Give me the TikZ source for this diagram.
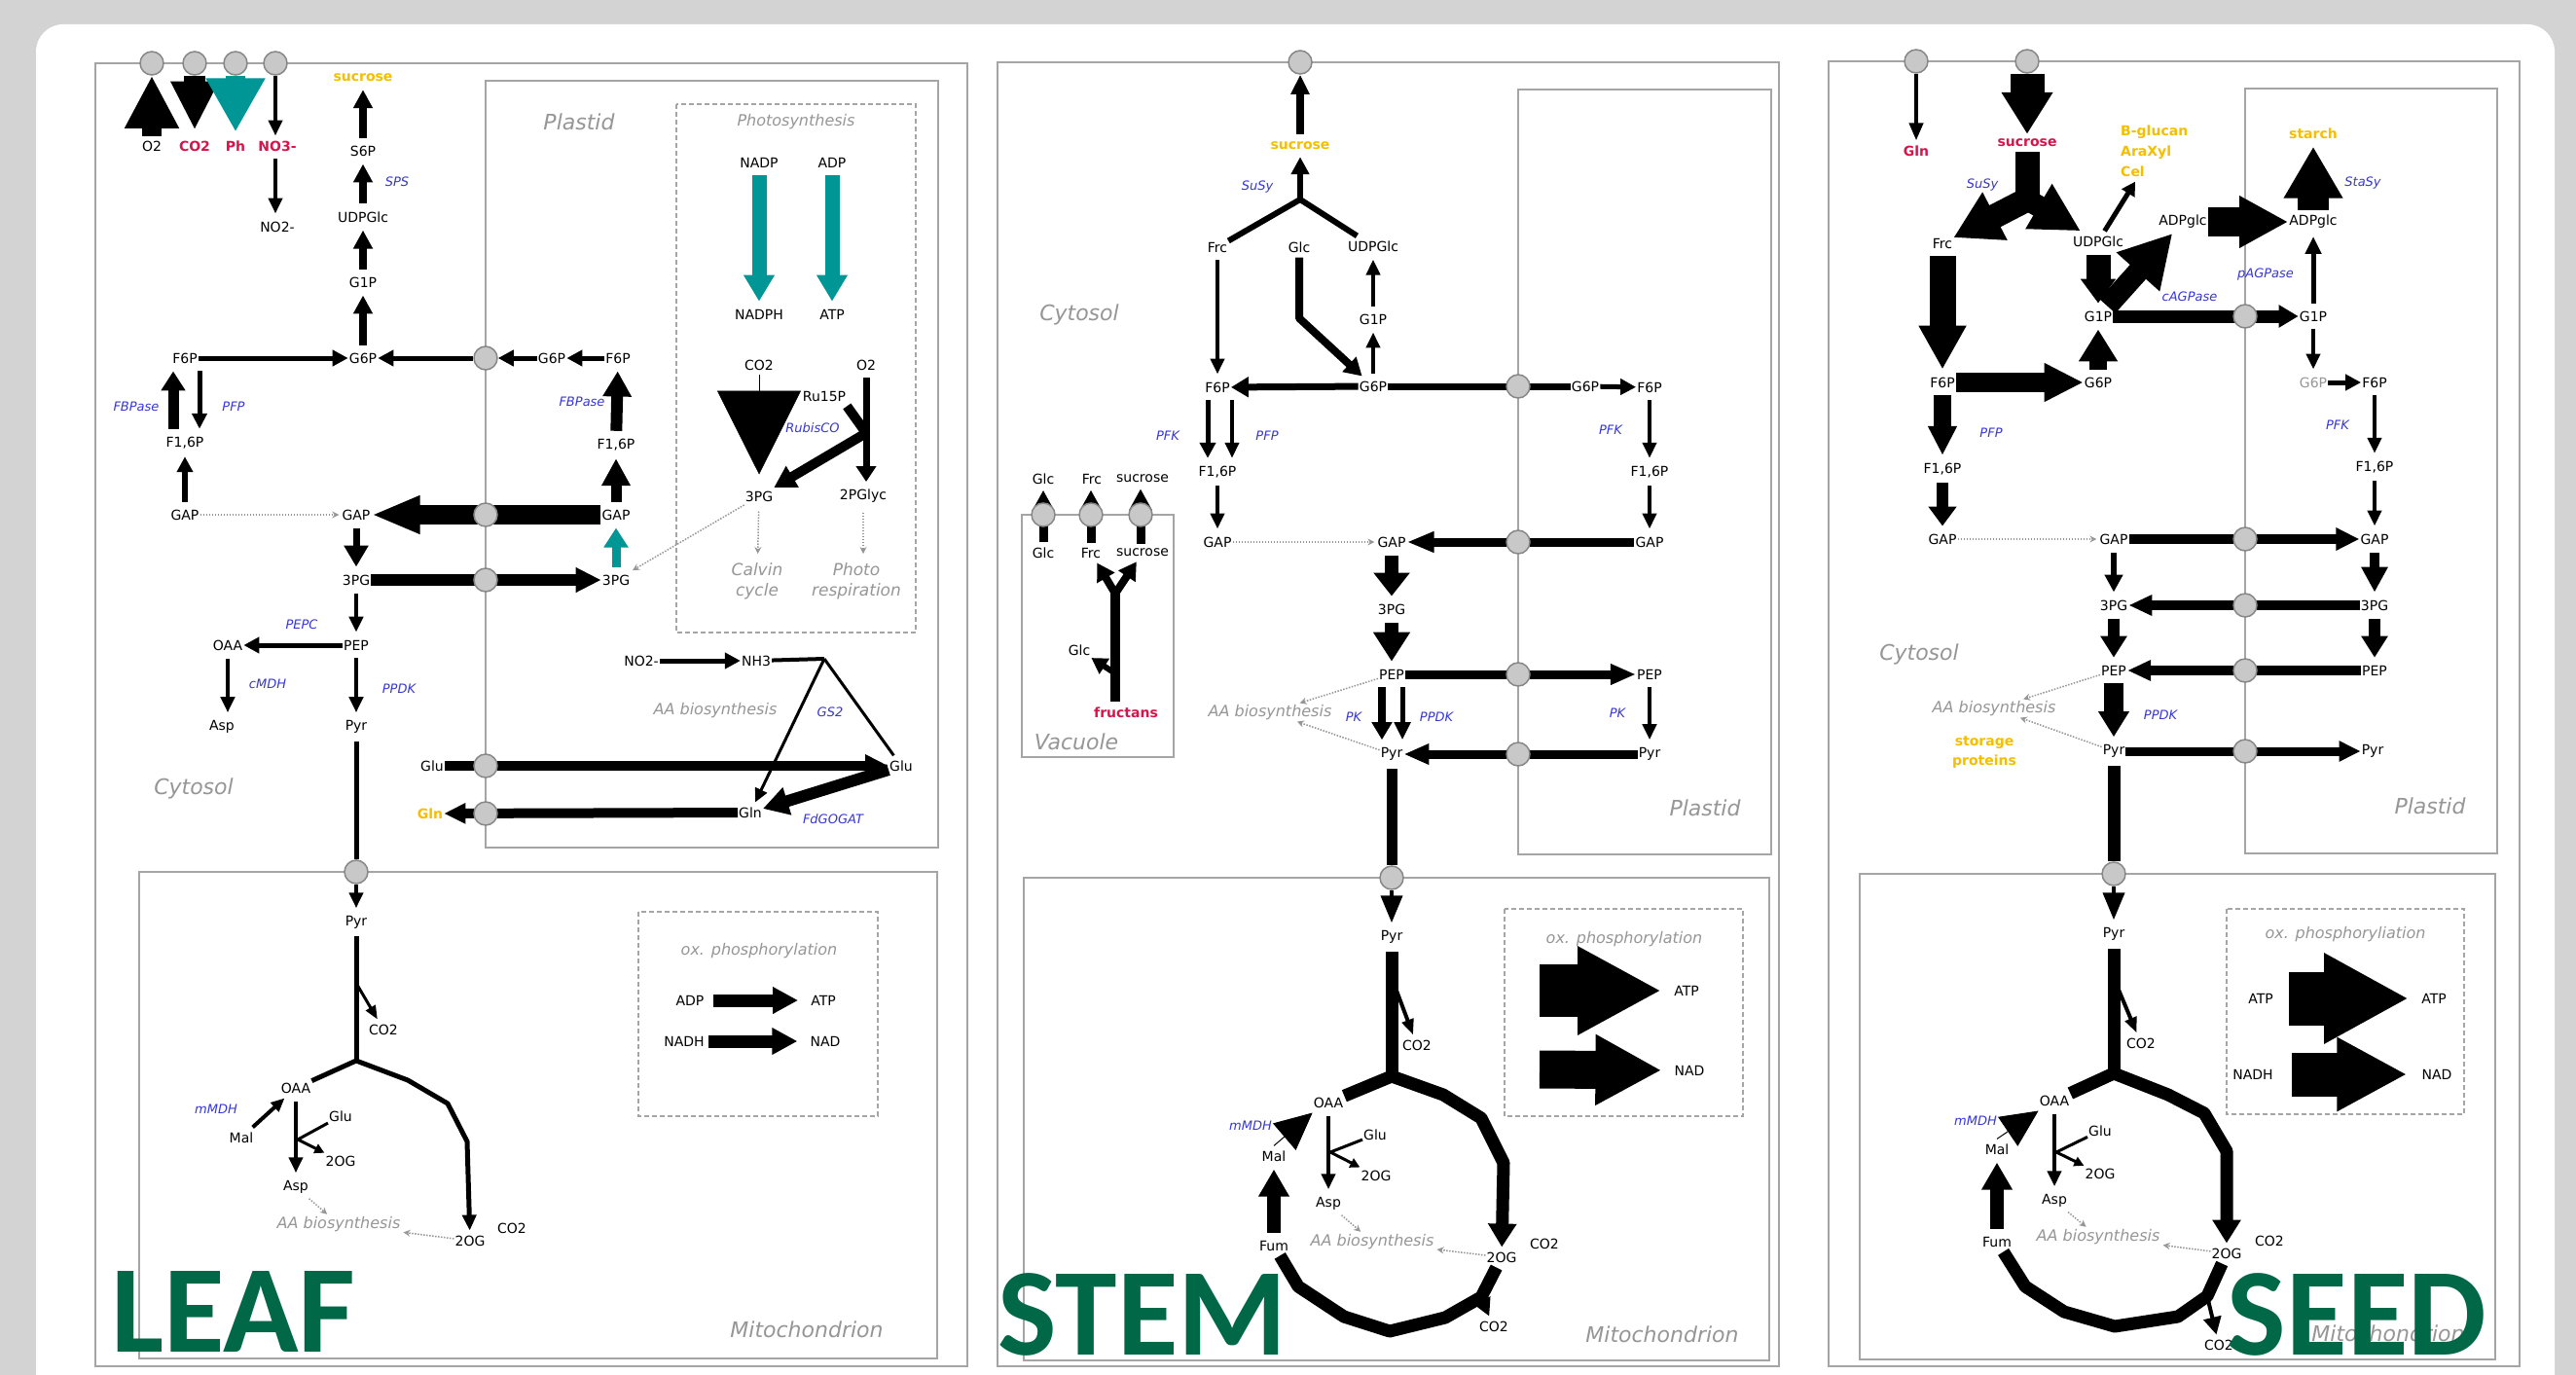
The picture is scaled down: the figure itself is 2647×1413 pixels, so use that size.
\documentclass[tikz,border=0pt]{standalone}
\usepackage{fontspec}
\setmainfont{DejaVu Sans}
\newfontfamily\carl{Carlito}
\usetikzlibrary{arrows.meta}
\definecolor{gold}{RGB}{245,190,0}
\definecolor{mred}{RGB}{215,20,75}
\definecolor{enzc}{RGB}{55,55,215}
\definecolor{tealc}{RGB}{0,150,150}
\definecolor{boxg}{RGB}{165,165,165}
\definecolor{txtg}{RGB}{150,150,150}
\definecolor{portf}{RGB}{200,200,200}
\definecolor{portd}{RGB}{135,135,135}
\definecolor{bggray}{RGB}{211,211,211}
\definecolor{leafg}{RGB}{0,103,71}
\newcommand\labfont{\fontsize{14}{20}\selectfont}
\newcommand\enzfont{\fontsize{13}{15}\selectfont\itshape}
\newcommand\compfont{\fontsize{22}{26}\selectfont\itshape}
\newcommand\grfont{\fontsize{16}{19}\selectfont\itshape}
\newcommand\grbfont{\fontsize{17}{21}\selectfont\itshape}
\newcommand\bigfont{\carl\bfseries\fontsize{128}{130}\selectfont}
\pgfdeclarelayer{back}
\pgfdeclarelayer{arr}
\pgfsetlayers{back,arr,main}
\begin{document}
\begin{tikzpicture}[x=1pt,y=-1pt,
  lab/.style={font=\labfont, inner xsep=1pt, inner ysep=5pt},
  rlab/.style={lab, text=mred, font=\labfont\bfseries},
  glab/.style={lab, text=gold, font=\labfont\bfseries},
  enzl/.style={font=\enzfont, text=enzc, inner sep=1pt},
  comp/.style={font=\compfont, text=txtg, inner sep=1pt},
  grl/.style={font=\grfont, text=txtg, inner sep=1pt},
  grl2/.style={font=\grbfont, text=txtg, inner sep=1pt, align=center},
  big/.style={font=\bigfont, text=leafg, inner sep=0pt},
  port/.style={circle, fill=portf, draw=portd, line width=1.5pt, minimum size=24pt, inner sep=0pt},
  box/.style={draw=boxg, line width=2pt},
  dbox/.style={draw=boxg, line width=1.6pt, dash pattern=on 5pt off 3pt},
  fa/.style n args={3}{line width=#1pt, -{Triangle[width=#2pt,length=#3pt]}},
  vsh/.style={shorten <=3pt, shorten >=3pt},
  dotarr/.style={draw=txtg, line width=1.5pt, dash pattern=on 1.5pt off 1.5pt, -{Stealth[width=7pt,length=7pt]}, shorten >=2pt},
  thick line/.style={line width=#1pt, line join=round}
]
\useasboundingbox (0,0) rectangle (2647,1413);
\begin{pgfonlayer}{back}
\fill[bggray] (0,0) rectangle (2647,1413);
\fill[white, rounded corners=28pt] (37,25) rectangle (2625,1470);
% LEAF boxes
\draw[box] (98,65) rectangle (994,1404);
\draw[box] (499,83) rectangle (964,871);
\draw[dbox] (695,107) rectangle (941,650);
\draw[box] (143,896) rectangle (963,1396);
\draw[dbox] (656,937) rectangle (902,1147);
% STEM boxes
\draw[box] (1025,64) rectangle (1828,1404);
\draw[box] (1560,92) rectangle (1820,878);
\draw[box] (1050,529) rectangle (1206,778);
\draw[box] (1052,902) rectangle (1818,1398);
\draw[dbox] (1546,934) rectangle (1791,1147);
% SEED boxes
\draw[box] (1879,63) rectangle (2589,1404);
\draw[box] (2307,91) rectangle (2566,877);
\draw[box] (1911,898) rectangle (2564,1397);
\draw[dbox] (2288,934) rectangle (2532,1145);
\end{pgfonlayer}

% ================= LEAF nodes =================
\node[port] (pO2) at (156,65) {};
\node[port] (pCO2) at (200,65) {};
\node[port] (pPh) at (242,65) {};
\node[port] (pNO3) at (283,65) {};
\node[lab] (lO2) at (156,150) {O2};
\node[rlab] (lCO2) at (200,150) {CO2};
\node[rlab] (lPh) at (242,150) {Ph};
\node[rlab] (lNO3) at (285,150) {NO3-};
\node[lab] (lNO2) at (285,233) {NO2-};
\node[glab] (lSucA) at (373,80) {sucrose};
\node[lab] (lS6P) at (373,155) {S6P};
\node[enzl] (eSPS) at (408,187) {SPS};
\node[lab] (lUDPA) at (373,223) {UDPGlc};
\node[lab] (lG1PA) at (373,290) {G1P};
\node[lab] (lG6PA) at (373,368) {G6P};
\node[lab] (lF6PA) at (190,368) {F6P};
\node[lab] (lF16A) at (190,455) {F1,6P};
\node[enzl] (eFBPa) at (140,418) {FBPase};
\node[enzl] (ePFPa) at (240,418) {PFP};
\node[lab] (lGAPA1) at (190,529) {GAP};
\node[lab] (lGAPA2) at (366,529) {GAP};
\node[lab] (l3PGA) at (366,596) {3PG};
\node[enzl] (ePEPC) at (310,642) {PEPC};
\node[lab] (lOAAA) at (234,663) {OAA};
\node[lab] (lPEPA) at (366,663) {PEP};
\node[enzl] (ecMDH) at (275,703) {cMDH};
\node[enzl] (ePPDKa) at (410,708) {PPDK};
\node[lab] (lAspA) at (228,747) {Asp};
\node[lab] (lPyrA) at (366,747) {Pyr};
\node[comp] (cCytA) at (199,810) {Cytosol};
\node[lab] (lGluA1) at (444,787) {Glu};
\node[glab] (lGlnA1) at (442,836) {Gln};
\node[comp] (cPlaA) at (595,125) {Plastid};
\node[grl] (tPhoto) at (818,125) {Photosynthesis};
\node[lab] (lNADP) at (780,167) {NADP};
\node[lab] (lADPA) at (855,167) {ADP};
\node[lab] (lNADPH) at (780,323) {NADPH};
\node[lab] (lATPA) at (855,323) {ATP};
\node[lab] (lG6PAp) at (567,368) {G6P};
\node[lab] (lF6PAp) at (635,368) {F6P};
\node[enzl] (eFBPb) at (598,413) {FBPase};
\node[lab] (lF16Ap) at (633,457) {F1,6P};
\node[lab] (lGAPAp) at (633,529) {GAP};
\node[lab] (l3PGAp) at (633,596) {3PG};
\node[lab] (lRu) at (847,407) {Ru15P};
\node[lab] (lCO2ph) at (780,375) {CO2};
\node[lab] (lO2ph) at (890,375) {O2};
\node[enzl] (eRub) at (835,440) {RubisCO};
\node[lab] (l3PGph) at (780,510) {3PG};
\node[lab] (l2PG) at (887,510) {2PGlyc};
\node[grl2] (tCalvin) at (778,597) {Calvin\\cycle};
\node[grl2] (tPhotoR) at (880,597) {Photo\\respiration};
\node[lab] (lNO2b) at (659,679) {NO2-};
\node[lab] (lNH3) at (777,679) {NH3};
\node[grl] (tAAa) at (735,730) {AA biosynthesis};
\node[enzl] (eGS2) at (853,732) {GS2};
\node[lab] (lGluAp) at (926,787) {Glu};
\node[lab] (lGlnAp) at (771,835) {Gln};
\node[enzl] (eFdG) at (856,842) {FdGOGAT};
\node[port] (pA1) at (499,368) {};
\node[port] (pA2) at (499,529) {};
\node[port] (pA3) at (499,596) {};
\node[port] (pA4) at (499,787) {};
\node[port] (pA5) at (499,836) {};
\node[port] (pA6) at (366,896) {};
\node[lab] (lPyrAm) at (366,948) {Pyr};
\node[lab] (lCO2Am1) at (394,1058) {CO2};
\node[lab] (lOAAAm) at (304,1118) {OAA};
\node[enzl] (emMDHa) at (222,1140) {mMDH};
\node[lab] (lMalA) at (248,1169) {Mal};
\node[lab] (lGluAm) at (350,1147) {Glu};
\node[lab] (l2OGAm1) at (350,1193) {2OG};
\node[lab] (lAspAm) at (304,1220) {Asp};
\node[grl] (tAAam) at (348,1258) {AA biosynthesis};
\node[lab] (l2OGAm2) at (483,1275) {2OG};
\node[lab] (lCO2Am2) at (526,1262) {CO2};
\node[grl] (tOxA) at (780,977) {ox. phosphorylation};
\node[lab] (lADPAm) at (709,1028) {ADP};
\node[lab] (lATPAm) at (846,1028) {ATP};
\node[lab] (lNADHA) at (703,1070) {NADH};
\node[lab] (lNADA) at (848,1070) {NAD};
\node[comp] (cMitA) at (829,1366) {Mitochondrion};
\node[big] (tLEAF) at (240,1348) {LEAF};
\coordinate (jN) at (847,677);
\coordinate (jRu) at (890,445);
\coordinate (jA) at (366,1090);
\coordinate (cA1) at (367,1012);
\coordinate (jGA) at (306,1171);

% ================= STEM nodes =================
\node[port] (pB0) at (1336,64) {};
\node[glab] (lSucB) at (1336,150) {sucrose};
\node[enzl] (eSuSyB) at (1292,192) {SuSy};
\node[lab] (lFrcB) at (1251,254) {Frc};
\node[lab] (lGlcB) at (1335,254) {Glc};
\node[lab] (lUDPB) at (1411,253) {UDPGlc};
\node[comp] (cCytB) at (1109,323) {Cytosol};
\node[lab] (lG1PB) at (1411,328) {G1P};
\node[lab] (lF6PB) at (1251,398) {F6P};
\node[lab] (lG6PB) at (1411,397) {G6P};
\node[port] (pB1) at (1560,397) {};
\node[lab] (lG6PBp) at (1629,397) {G6P};
\node[lab] (lF6PBp) at (1695,398) {F6P};
\node[enzl] (ePFKBp) at (1655,442) {PFK};
\node[lab] (lF16Bp) at (1695,485) {F1,6P};
\node[enzl] (ePFKB) at (1200,448) {PFK};
\node[enzl] (ePFPB) at (1302,448) {PFP};
\node[lab] (lF16B) at (1251,485) {F1,6P};
\node[lab] (lGAPB1) at (1251,557) {GAP};
\node[lab] (lGAPB2) at (1430,557) {GAP};
\node[port] (pB2) at (1560,557) {};
\node[lab] (lGAPBp) at (1695,557) {GAP};
\node[lab] (l3PGB) at (1430,626) {3PG};
\node[lab] (lPEPB) at (1430,693) {PEP};
\node[port] (pB3) at (1560,693) {};
\node[lab] (lPEPBp) at (1695,693) {PEP};
\node[grl] (tAAB) at (1305,732) {AA biosynthesis};
\node[enzl] (ePKB) at (1391,737) {PK};
\node[enzl] (ePPDKB) at (1476,737) {PPDK};
\node[enzl] (ePKBp) at (1662,733) {PK};
\node[lab] (lPyrB) at (1430,775) {Pyr};
\node[port] (pB4) at (1560,775) {};
\node[lab] (lPyrBp) at (1695,775) {Pyr};
\node[comp] (cPlaB) at (1752,830) {Plastid};
\node[lab] (lGlcV0) at (1072,492) {Glc};
\node[lab] (lFrcV0) at (1122,492) {Frc};
\node[lab] (lSucV0) at (1174,492) {sucrose};
\node[port] (pV1) at (1072,529) {};
\node[port] (pV2) at (1121,529) {};
\node[port] (pV3) at (1172,529) {};
\node[lab] (lGlcV) at (1072,568) {Glc};
\node[lab] (lFrcV) at (1121,568) {Frc};
\node[lab] (lSucV) at (1174,568) {sucrose};
\node[lab] (lGlcV2) at (1109,668) {Glc};
\node[rlab] (lFruc) at (1157,732) {fructans};
\node[comp] (cVac) at (1106,762) {Vacuole};
\node[port] (pB5) at (1430,902) {};
\node[lab] (lPyrBm) at (1430,963) {Pyr};
\node[lab] (lCO2Bm1) at (1456,1074) {CO2};
\node[lab] (lOAABm) at (1365,1133) {OAA};
\node[enzl] (emMDHB) at (1285,1157) {mMDH};
\node[lab] (lMalB) at (1309,1188) {Mal};
\node[lab] (lGluBm) at (1413,1166) {Glu};
\node[lab] (l2OGBm1) at (1414,1208) {2OG};
\node[lab] (lAspBm) at (1365,1237) {Asp};
\node[grl] (tAABm) at (1410,1276) {AA biosynthesis};
\node[lab] (lFumB) at (1309,1280) {Fum};
\node[lab] (l2OGBm2) at (1543,1292) {2OG};
\node[lab] (lCO2Bm2) at (1587,1278) {CO2};
\node[lab] (lCO2Bm3) at (1535,1363) {CO2};
\node[grl] (tOxB) at (1669,965) {ox. phosphorylation};
\node[lab] (lATPBm) at (1733,1018) {ATP};
\node[lab] (lNADBm) at (1736,1100) {NAD};
\node[comp] (cMitB) at (1708,1371) {Mitochondrion};
\node[big] (tSTEM) at (1174,1351) {STEM};
\coordinate (jB1) at (1336,205);
\coordinate (jV) at (1146,610);
\coordinate (jV2) at (1146,692);
\coordinate (jB2) at (1430,1106);
\coordinate (cB1) at (1432,1010);
\coordinate (cB2) at (1520,1330);
\coordinate (jGB) at (1367,1184);
\coordinate (oB1) at (1582,1018);
\coordinate (oB2) at (1582,1099);

% ================= SEED nodes =================
\node[port] (pC1) at (1969,63) {};
\node[port] (pC2) at (2083,63) {};
\node[rlab] (lGlnC) at (1969,155) {Gln};
\node[rlab] (lSucC) at (2083,147) {sucrose};
\node[enzl] (eSuSyC) at (2037,190) {SuSy};
\node[lab] (lFrcC) at (1996,250) {Frc};
\node[lab] (lUDPC) at (2156,248) {UDPGlc};
\node[lab, text=gold, font=\fontsize{14}{21}\selectfont\bfseries, align=left, anchor=west] (lBglu) at (2178,155) {B-glucan\\AraXyl\\Cel};
\node[glab] (lStarch) at (2377,137) {starch};
\node[enzl] (eStaSy) at (2428,188) {StaSy};
\node[lab] (lADPgC) at (2243,228) {ADPglc};
\node[lab] (lADPgCp) at (2377,228) {ADPglc};
\node[enzl] (epAGP) at (2328,282) {pAGPase};
\node[enzl] (ecAGP) at (2250,305) {cAGPase};
\node[lab] (lG1PC) at (2156,325) {G1P};
\node[port] (pC3) at (2307,325) {};
\node[lab] (lG1PCp) at (2377,325) {G1P};
\node[lab] (lF6PC) at (1996,393) {F6P};
\node[lab] (lG6PC) at (2156,393) {G6P};
\node[lab, text=txtg] (lG6PCp) at (2377,393) {G6P};
\node[lab] (lF6PCp) at (2440,393) {F6P};
\node[enzl] (ePFKC) at (2402,437) {PFK};
\node[enzl] (ePFPC) at (2046,445) {PFP};
\node[lab] (lF16C) at (1996,482) {F1,6P};
\node[lab] (lF16Cp) at (2440,480) {F1,6P};
\node[lab] (lGAPC1) at (1996,554) {GAP};
\node[lab] (lGAPC2) at (2172,554) {GAP};
\node[port] (pC4) at (2307,554) {};
\node[lab] (lGAPCp) at (2440,554) {GAP};
\node[lab] (l3PGC) at (2172,622) {3PG};
\node[port] (pC5) at (2307,622) {};
\node[lab] (l3PGCp) at (2440,622) {3PG};
\node[comp] (cCytC) at (1972,672) {Cytosol};
\node[lab] (lPEPC) at (2172,689) {PEP};
\node[port] (pC6) at (2307,689) {};
\node[lab] (lPEPCp) at (2440,689) {PEP};
\node[grl] (tAAC) at (2049,728) {AA biosynthesis};
\node[enzl] (ePPDKC) at (2220,735) {PPDK};
\node[glab, align=center] (lStor) at (2039,773) {storage\\proteins};
\node[lab] (lPyrC) at (2172,772) {Pyr};
\node[port] (pC7) at (2307,772) {};
\node[lab] (lPyrCp) at (2438,772) {Pyr};
\node[comp] (cPlaC) at (2497,828) {Plastid};
\node[port] (pC8) at (2172,898) {};
\node[lab] (lPyrCm) at (2172,960) {Pyr};
\node[lab] (lCO2Cm1) at (2200,1072) {CO2};
\node[lab] (lOAACm) at (2111,1131) {OAA};
\node[enzl] (emMDHC) at (2030,1152) {mMDH};
\node[lab] (lMalC) at (2052,1181) {Mal};
\node[lab] (lGluCm) at (2158,1162) {Glu};
\node[lab] (l2OGCm1) at (2158,1206) {2OG};
\node[lab] (lAspCm) at (2111,1234) {Asp};
\node[grl] (tAACm) at (2156,1271) {AA biosynthesis};
\node[lab] (lFumC) at (2052,1276) {Fum};
\node[lab] (l2OGCm2) at (2288,1288) {2OG};
\node[lab] (lCO2Cm2) at (2332,1275) {CO2};
\node[lab] (lCO2Cm3) at (2280,1382) {CO2};
\node[grl] (tOxC) at (2410,960) {ox. phosphoryliation};
\node[lab] (lATPCm1) at (2323,1026) {ATP};
\node[lab] (lATPCm2) at (2501,1026) {ATP};
\node[lab] (lNADHC) at (2315,1104) {NADH};
\node[lab] (lNADC) at (2504,1104) {NAD};
\node[comp] (cMitC) at (2454,1370) {Mitochondrion};
\node[big] (tSEED) at (2422,1351) {SEED};
\coordinate (jC1) at (2083,205);
\coordinate (jC2) at (2172,1103);
\coordinate (cC1) at (2174,1010);
\coordinate (cC2) at (2268,1332);
\coordinate (jGC) at (2113,1184);

\begin{pgfonlayer}{arr}
% ---------- LEAF arrows ----------
\draw[fa={20}{52}{54}] (lO2) -- (pO2);
\draw[fa={22}{46}{50}, shorten >=6pt] (pCO2) -- (lCO2);
\draw[fa={20}{57}{55}, tealc, shorten >=4pt] (pPh) -- (lPh);
\draw[fa={4}{14}{16}] (pNO3) -- (pNO3 |- lNO3.north);
\draw[fa={4}{14}{16}, vsh] (lNO3.south -| pNO3) -- (pNO3 |- lNO2.north);
\draw[fa={8}{19}{19}, vsh] (lS6P) -- (lSucA);
\draw[fa={8}{19}{19}, vsh] (lUDPA) -- (lS6P);
\draw[fa={8}{19}{19}, vsh] (lG1PA) -- (lUDPA);
\draw[fa={8}{19}{19}, vsh] (lG6PA) -- (lG1PA);
\draw[fa={5}{16}{16}] (lF6PA) -- (lG6PA);
\draw[fa={5}{16}{16}] (pA1) -- (lG6PA);
\draw[fa={5}{16}{16}] (lG6PAp) -- (pA1);
\draw[fa={5}{16}{16}] (lF6PAp) -- (lG6PAp);
\draw[fa={12}{28}{26}, vsh] (lF16Ap) -- (lF6PAp);
\draw[fa={11}{24}{20}, vsh] ([xshift=-12pt]lF16A.north) -- ([xshift=-12pt]lF6PA.south);
\draw[fa={5}{15}{16}, vsh] ([xshift=15pt]lF6PA.south) -- ([xshift=15pt]lF16A.north);
\draw[fa={6}{16}{16}, vsh] (lGAPA1) -- (lF16A);
\draw[dotarr] (lGAPA1) -- (lGAPA2);
\draw[fa={20}{36}{50}] (lGAPAp) -- (lGAPA2);
\draw[fa={11}{28}{28}, vsh] (lGAPAp) -- (lF16Ap);
\draw[fa={9}{24}{20}, vsh, tealc] (l3PGAp) -- (lGAPAp);
\draw[fa={12}{24}{26}] (l3PGA) -- (l3PGAp);
\draw[fa={7}{24}{22}, vsh] (lGAPA2) -- (l3PGA);
\draw[fa={4}{14}{16}, vsh] (l3PGA) -- (lPEPA);
\draw[fa={5}{16}{16}] (lPEPA) -- (lOAAA);
\draw[fa={4}{14}{16}, vsh] (lOAAA.south) -- (lOAAA.south |- lAspA.north);
\draw[fa={4}{14}{16}, vsh] (lPEPA) -- (lPyrA);
\draw[line width=5pt, shorten <=3pt] (lPyrA) -- (pA6);
\draw[fa={4}{14}{16}, shorten >=3pt] (pA6) -- (lPyrAm);
\draw[fa={5}{16}{16}] (lNO2b) -- (lNH3);
\draw[line width=4pt] (lNH3) -- (jN);
\draw[fa={3}{13}{14}] (jN) -- (lGlnAp);
\draw[line width=3pt] (jN) -- (lGluAp);
\draw[fa={10}{22}{24}] (lGluA1) -- (lGluAp);
\draw[fa={10}{20}{22}] (lGlnAp) -- (lGlnA1);
\draw[fa={12}{28}{26}] (lGluAp) -- (lGlnAp);
\draw[dotarr] (l3PGph) -- (l3PGAp);
\draw[dotarr, shorten <=5pt, shorten >=8pt] (l3PGph) -- (tCalvin);
\draw[dotarr, shorten <=5pt, shorten >=8pt] (l2PG) -- (l2PG |- tPhotoR.north);
\draw[fa={15}{30}{27}, tealc, vsh] (lNADP) -- (lNADPH);
\draw[fa={15}{30}{27}, tealc, vsh] (lADPA) -- (lATPA);
\draw[fa={0.5}{86}{86}, shorten >=12pt] (lCO2ph) -- (l3PGph);
\draw[fa={7}{20}{16}, vsh] (lO2ph.south) -- (lO2ph.south |- l2PG.north);
\draw[line width=10pt] (lRu.south east) -- (jRu);
\draw[fa={10}{24}{22}] (jRu) -- (l3PGph);
% mito
\draw[thick line=5, shorten <=2pt] (lPyrAm) -- (jA);
\draw[fa={3}{11}{14}] (cA1) -- (lCO2Am1);
\draw[thick line=5] (jA) -- (lOAAAm);
\draw[thick line=5, -{Triangle[width=14pt,length=16pt]}] (jA) -- (419,1110) -- (460,1134) -- (480,1173) -- (l2OGAm2);
\draw[fa={4}{12}{14}] (lMalA) -- (lOAAAm);
\draw[fa={4}{14}{16}, vsh] (lOAAAm) -- (lAspAm);
\draw[line width=3pt] (lGluAm) -- (jGA);
\draw[fa={3}{10}{10}] (jGA) -- (l2OGAm1);
\draw[dotarr] (lAspAm) -- (tAAam);
\draw[dotarr] (l2OGAm2) -- (tAAam);
\draw[fa={13}{26}{26}, shorten <=8pt, shorten >=12pt] (lADPAm) -- (lATPAm);
\draw[fa={13}{26}{26}, shorten <=3pt, shorten >=12pt] (lNADHA) -- (lNADA);

% ---------- STEM arrows ----------
\draw[fa={8}{18}{20}, shorten <=3pt] (lSucB) -- (pB0);
\draw[fa={6}{18}{18}, shorten >=2pt] (jB1) -- (lSucB);
\draw[line width=6pt] (lFrcB) -- (jB1);
\draw[line width=6pt] (lUDPB) -- (jB1);
\draw[fa={4}{14}{16}, vsh] (lFrcB) -- (lF6PB);
\draw[fa={8}{20}{18}, line join=round] (lGlcB) -- (1335,327) -- (lG6PB);
\draw[fa={4}{14}{16}, vsh] (lG6PB) -- (lG1PB);
\draw[fa={4}{14}{16}, vsh] (lG1PB) -- (lUDPB);
\draw[fa={7}{20}{18}] (lG6PB) -- (lF6PB);
\draw[line width=7pt] (lG6PBp) -- (lG6PB);
\draw[fa={5}{16}{16}] (lG6PBp) -- (lF6PBp);
\draw[fa={4}{14}{16}, vsh] (lF6PBp) -- (lF16Bp);
\draw[fa={4}{14}{16}, vsh] (lF16Bp) -- (lGAPBp);
\draw[fa={5}{16}{16}, vsh] ([xshift=-10pt]lF6PB.south) -- ([xshift=-10pt]lF16B.north);
\draw[fa={4}{14}{16}, vsh] ([xshift=15pt]lF6PB.south) -- ([xshift=15pt]lF16B.north);
\draw[fa={4}{14}{16}, vsh] (lF16B) -- (lGAPB1);
\draw[dotarr] (lGAPB1) -- (lGAPB2);
\draw[fa={9}{20}{28}] (lGAPBp) -- (lGAPB2);
\draw[fa={14}{36}{24}, vsh] (lGAPB2) -- (l3PGB);
\draw[fa={14}{36}{30}, vsh] (l3PGB) -- (lPEPB);
\draw[fa={9}{20}{26}] (lPEPB) -- (lPEPBp);
\draw[fa={4}{14}{16}, vsh] (lPEPBp) -- (lPyrBp);
\draw[fa={8}{20}{18}, vsh] ([xshift=-10pt]lPEPB.south) -- ([xshift=-10pt]lPyrB.north);
\draw[fa={5}{16}{18}, vsh] ([xshift=11pt]lPEPB.south) -- ([xshift=11pt]lPyrB.north);
\draw[fa={9}{20}{26}] (lPyrBp) -- (lPyrB);
\draw[dotarr] (lPEPB) -- (tAAB);
\draw[dotarr] (lPyrB) -- (tAAB);
\draw[line width=11pt, shorten <=3pt] (lPyrB) -- (pB5);
% vacuole
\draw[fa={9}{22}{22}, shorten >=1pt] (lGlcV) -- (lGlcV0);
\draw[fa={9}{22}{22}, shorten >=1pt] (lFrcV) -- (lFrcV |- lFrcV0.south);
\draw[fa={9}{22}{22}, shorten >=1pt] (pV3 |- lSucV.north) -- (pV3 |- lSucV0.south);
\draw[line width=10pt] (jV |- lFruc.north) -- (jV);
\draw[fa={8}{20}{18}] (jV) -- (lFrcV);
\draw[fa={8}{20}{18}] (jV) -- (lSucV);
\draw[fa={6}{18}{16}] (jV2) -- (lGlcV2);
% mito
\draw[fa={4}{22}{28}, shorten >=3pt] (pB5) -- (lPyrBm);
\draw[thick line=13, shorten <=3pt] (lPyrBm) -- (jB2);
\draw[fa={4}{12}{16}] (cB1) -- (lCO2Bm1);
\draw[thick line=13] (jB2) -- (lOAABm);
\draw[thick line=13, -{Triangle[width=28pt,length=24pt]}] (jB2) -- (1483,1125) -- (1522,1149) -- (1545,1195) -- (l2OGBm2);
\draw[thick line=13] (l2OGBm2) -- (1522,1333) -- (1485,1354) -- (1428,1368) -- (1381,1353) -- (1334,1322) -- (lFumB);
\draw[fa={4}{18}{18}] (cB2) -- (lCO2Bm3);
\draw[fa={14}{30}{28}, vsh] (lFumB) -- (lMalB);
\draw[fa={1}{36}{38}] (lMalB.north) -- (lOAABm.south west);
\draw[fa={4}{14}{16}, vsh] (lOAABm) -- (lAspBm);
\draw[line width=3pt] (lGluBm) -- (jGB);
\draw[fa={3}{10}{10}] (jGB) -- (l2OGBm1);
\draw[dotarr] (lAspBm) -- (tAABm);
\draw[dotarr] (l2OGBm2) -- (tAABm);
\draw[fa={54}{85}{86}, shorten >=12pt] (oB1) -- (lATPBm);
\draw[fa={39}{68}{68}, shorten >=12pt] (oB2) -- (lNADBm);

% ---------- SEED arrows ----------
\draw[fa={4}{14}{18}] (pC1) -- (lGlnC);
\draw[fa={35}{50}{43}] (pC2) -- (lSucC);
\draw[line width=25pt] (lSucC) -- (jC1);
\draw[fa={25}{52}{48}] (jC1) -- (lFrcC);
\draw[fa={22}{50}{50}] (jC1) -- (lUDPC);
\draw[fa={5}{15}{14}] (lUDPC) -- (lBglu);
\draw[fa={30}{50}{50}] (lADPgC) -- (lADPgCp);
\draw[fa={32}{57}{53}, shorten >=3pt] (lADPgCp) -- (lStarch);
\draw[fa={27}{46}{45}, vsh] (lFrcC) -- (lF6PC);
\draw[fa={20}{37}{40}] (lF6PC) -- (lG6PC);
\draw[fa={18}{38}{33}, vsh] (lG6PC) -- (lG1PC);
\draw[fa={25}{35}{25}, vsh] (lUDPC) -- (lG1PC);
\draw[fa={22}{56}{53}] (lG1PC) -- (lADPgC);
\draw[fa={13}{22}{20}] (lG1PC) -- (lG1PCp);
\draw[fa={5}{16}{18}, vsh] (lG1PCp) -- (lADPgCp);
\draw[fa={4}{14}{16}, vsh] (lG1PCp) -- (lG6PCp);
\draw[fa={5}{16}{16}] (lG6PCp) -- (lF6PCp);
\draw[fa={4}{14}{16}, vsh] (lF6PCp) -- (lF16Cp);
\draw[fa={4}{14}{16}, vsh] (lF16Cp) -- (lGAPCp);
\draw[fa={18}{28}{30}, vsh] (lF6PC) -- (lF16C);
\draw[fa={12}{28}{20}, vsh] (lF16C) -- (lGAPC1);
\draw[dotarr] (lGAPC1) -- (lGAPC2);
\draw[fa={10}{22}{24}] (lGAPC2) -- (lGAPCp);
\draw[fa={10}{26}{26}, vsh] (lGAPCp) -- (l3PGCp);
\draw[fa={6}{18}{18}, vsh] (lGAPC2) -- (l3PGC);
\draw[fa={10}{20}{24}] (l3PGCp) -- (l3PGC);
\draw[fa={12}{26}{22}, vsh] (l3PGC) -- (lPEPC);
\draw[fa={12}{26}{22}, vsh] (l3PGCp) -- (lPEPCp);
\draw[fa={10}{20}{24}] (lPEPCp) -- (lPEPC);
\draw[fa={20}{30}{26}, vsh] (lPEPC) -- (lPyrC);
\draw[fa={9}{20}{22}] (lPyrC) -- (lPyrCp);
\draw[dotarr] (lPEPC) -- (tAAC);
\draw[dotarr] (lPyrC) -- (tAAC);
\draw[line width=13pt, shorten <=3pt] (lPyrC) -- (pC8);
% mito
\draw[fa={4}{22}{28}, shorten >=3pt] (pC8) -- (lPyrCm);
\draw[thick line=13, shorten <=3pt] (lPyrCm) -- (jC2);
\draw[fa={4}{12}{16}] (cC1) -- (lCO2Cm1);
\draw[thick line=13] (jC2) -- (lOAACm);
\draw[thick line=13, -{Triangle[width=28pt,length=24pt]}] (jC2) -- (2228,1125) -- (2265,1144) -- (2288,1183) -- (l2OGCm2);
\draw[thick line=13] (l2OGCm2) -- (2268,1332) -- (2238,1353) -- (2173,1363) -- (2121,1348) -- (2081,1322) -- (lFumC);
\draw[fa={4}{18}{18}] (cC2) -- (lCO2Cm3);
\draw[fa={14}{30}{28}, vsh] (lFumC) -- (lMalC);
\draw[fa={1}{36}{38}] (lMalC.north) -- (lOAACm.south west);
\draw[fa={4}{14}{16}, vsh] (lOAACm) -- (lAspCm);
\draw[line width=3pt] (lGluCm) -- (jGC);
\draw[fa={3}{10}{10}] (jGC) -- (l2OGCm1);
\draw[dotarr] (lAspCm) -- (tAACm);
\draw[dotarr] (l2OGCm2) -- (tAACm);
\draw[fa={55}{87}{87}, shorten <=15pt, shorten >=12pt] (lATPCm1) -- (lATPCm2);
\draw[fa={45}{71}{72}, shorten <=18pt, shorten >=14pt] (lNADHC) -- (lNADC);
\end{pgfonlayer}
\end{tikzpicture}
\end{document}
